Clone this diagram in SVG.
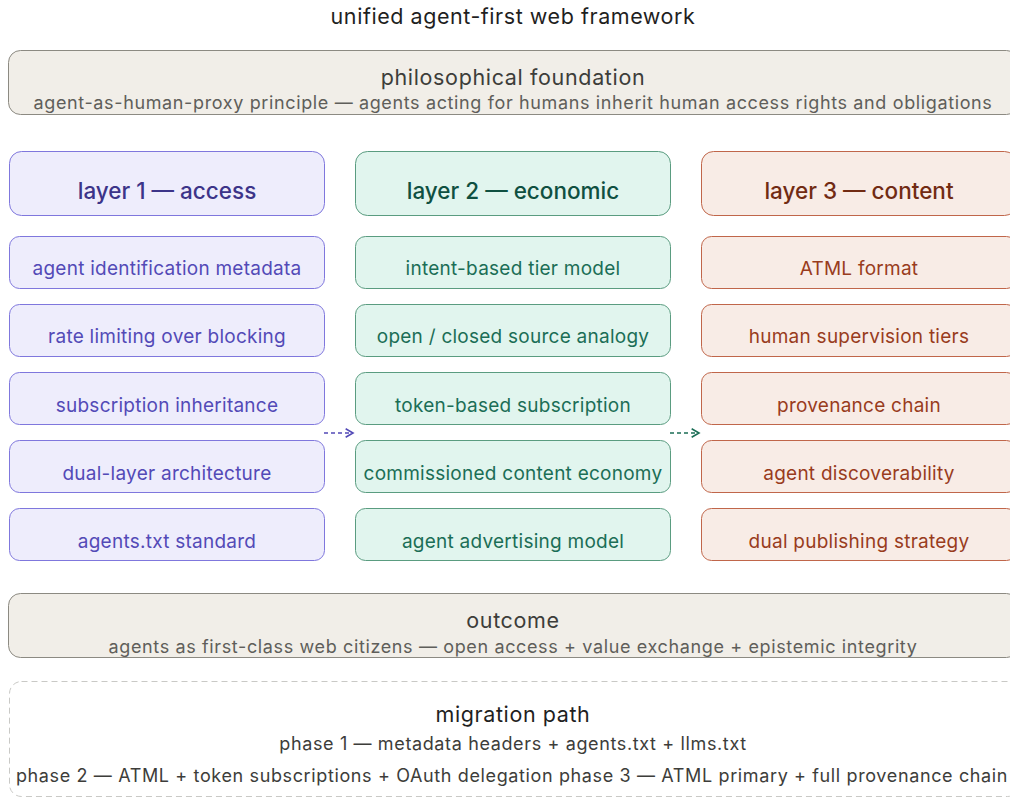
<svg xmlns="http://www.w3.org/2000/svg" width="1010" height="797" viewBox="0 0 1010 797">
<style>
text{font-family:Inter,"Liberation Sans",sans-serif;text-anchor:middle;dominant-baseline:central}
.title{font-size:21.5px;letter-spacing:0.55px;fill:#1f1f1f}
.neutral rect{fill:#f1eee8;stroke:#8c8a82;stroke-width:1}
.nt{font-size:21.5px;letter-spacing:0.65px;fill:#3d3d3a}
.ns{font-size:18px;letter-spacing:0.63px;fill:#5f5e5a}
.l1 rect{fill:#eeedfc;stroke:#7f77dd;stroke-width:1}
.l2 rect{fill:#e1f5ee;stroke:#5a9c80;stroke-width:1}
.l3 rect{fill:#f8ece6;stroke:#c0664a;stroke-width:1}
.h{font-size:22.5px;font-weight:500}
.i{font-size:19px;letter-spacing:0.25px}
.l1 .h{fill:#3c3489}.l1 .i{fill:#534ab7}
.l2 .h{fill:#0f5041}.l2 .i{fill:#1b6e56}
.l3 .h{fill:#712b13}.l3 .i{fill:#993c1d}
.mig rect{fill:#fff;stroke:#c9c9c6;stroke-width:1;stroke-dasharray:6 4}
.mt{font-size:21.5px;letter-spacing:0.6px;fill:#1f1f1f}
.ms{font-size:18px;letter-spacing:0.63px;fill:#3d3d3a}
</style>
<defs>
<marker id="a1" viewBox="0 0 10 10" refX="8" refY="5" markerWidth="7" markerHeight="7" orient="auto"><path d="M1 1L8 5L1 9" fill="none" stroke="#534ab7" stroke-width="1.5"/></marker>
<marker id="a2" viewBox="0 0 10 10" refX="8" refY="5" markerWidth="7" markerHeight="7" orient="auto"><path d="M1 1L8 5L1 9" fill="none" stroke="#1b6e56" stroke-width="1.5"/></marker>
</defs>
<text class="title" x="513" y="16">unified agent-first web framework</text>
<g id="foundation" class="neutral"><rect x="8.5" y="50.5" width="1010" height="64" rx="12"/><text class="nt" x="513" y="77">philosophical foundation</text><text class="ns" x="513" y="102">agent-as-human-proxy principle — agents acting for humans inherit human access rights and obligations</text></g>
<g id="layer1" class="l1">
<g id="l1h"><rect x="9.5" y="151.5" width="315" height="64" rx="12"/><text class="h" x="167" y="190">layer 1 — access</text></g>
<g id="l1a"><rect x="9.5" y="236.5" width="315" height="52" rx="10"/><text class="i" x="167" y="268">agent identification metadata</text></g>
<g id="l1b"><rect x="9.5" y="304.5" width="315" height="52" rx="10"/><text class="i" x="167" y="336">rate limiting over blocking</text></g>
<g id="l1c"><rect x="9.5" y="372.5" width="315" height="52" rx="10"/><text class="i" x="167" y="405">subscription inheritance</text></g>
<g id="l1d"><rect x="9.5" y="440.5" width="315" height="52" rx="10"/><text class="i" x="167" y="473">dual-layer architecture</text></g>
<g id="l1e"><rect x="9.5" y="508.5" width="315" height="52" rx="10"/><text class="i" x="167" y="541">agents.txt standard</text></g>
</g>
<g id="layer2" class="l2">
<g id="l2h"><rect x="355.5" y="151.5" width="315" height="64" rx="12"/><text class="h" x="513" y="190">layer 2 — economic</text></g>
<g id="l2a"><rect x="355.5" y="236.5" width="315" height="52" rx="10"/><text class="i" x="513" y="268">intent-based tier model</text></g>
<g id="l2b"><rect x="355.5" y="304.5" width="315" height="52" rx="10"/><text class="i" x="513" y="336">open / closed source analogy</text></g>
<g id="l2c"><rect x="355.5" y="372.5" width="315" height="52" rx="10"/><text class="i" x="513" y="405">token-based subscription</text></g>
<g id="l2d"><rect x="355.5" y="440.5" width="315" height="52" rx="10"/><text class="i" x="513" y="473">commissioned content economy</text></g>
<g id="l2e"><rect x="355.5" y="508.5" width="315" height="52" rx="10"/><text class="i" x="513" y="541">agent advertising model</text></g>
</g>
<g id="layer3" class="l3">
<g id="l3h"><rect x="701.5" y="151.5" width="315" height="64" rx="12"/><text class="h" x="859" y="190">layer 3 — content</text></g>
<g id="l3a"><rect x="701.5" y="236.5" width="315" height="52" rx="10"/><text class="i" x="859" y="268">ATML format</text></g>
<g id="l3b"><rect x="701.5" y="304.5" width="315" height="52" rx="10"/><text class="i" x="859" y="336">human supervision tiers</text></g>
<g id="l3c"><rect x="701.5" y="372.5" width="315" height="52" rx="10"/><text class="i" x="859" y="405">provenance chain</text></g>
<g id="l3d"><rect x="701.5" y="440.5" width="315" height="52" rx="10"/><text class="i" x="859" y="473">agent discoverability</text></g>
<g id="l3e"><rect x="701.5" y="508.5" width="315" height="52" rx="10"/><text class="i" x="859" y="541">dual publishing strategy</text></g>
</g>
<g id="connectors">
<line x1="324" y1="433" x2="353" y2="433" stroke="#534ab7" stroke-width="1.5" stroke-dasharray="4 3" marker-end="url(#a1)"/>
<line x1="670" y1="433" x2="699" y2="433" stroke="#1b6e56" stroke-width="1.5" stroke-dasharray="4 3" marker-end="url(#a2)"/>
</g>
<g id="outcome" class="neutral"><rect x="8.5" y="593.5" width="1010" height="64" rx="12"/><text class="nt" x="513" y="620">outcome</text><text class="ns" x="513" y="646">agents as first-class web citizens — open access + value exchange + epistemic integrity</text></g>
<g id="migration" class="mig"><rect x="9.5" y="681.5" width="1010" height="115" rx="12"/><text class="mt" x="513" y="714">migration path</text><text class="ms" x="513" y="743">phase 1 — metadata headers + agents.txt + llms.txt</text><text class="ms" x="512" y="775">phase 2 — ATML + token subscriptions + OAuth delegation phase 3 — ATML primary + full provenance chain</text></g>
</svg>
